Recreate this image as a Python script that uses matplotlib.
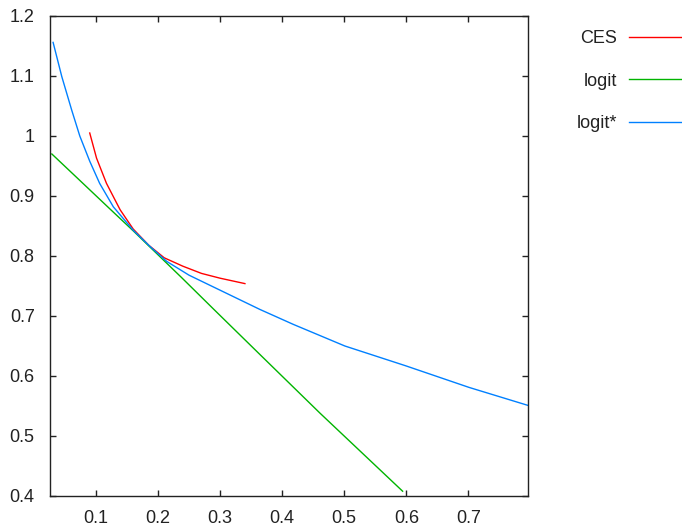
import numpy as np
import matplotlib
matplotlib.use("Agg")
import matplotlib.pyplot as plt

plt.rcParams['font.family'] = ['Liberation Sans', 'DejaVu Sans']

# CES curve
ces_x = [0.090, 0.101, 0.117, 0.139, 0.160, 0.185, 0.210, 0.240, 0.270, 0.300, 0.340]
ces_y = [1.005, 0.963, 0.921, 0.877, 0.845, 0.818, 0.797, 0.783, 0.771, 0.763, 0.754]

# logit curve
logit_x = [0.029, 0.074, 0.123, 0.160, 0.198, 0.238, 0.289, 0.364, 0.461, 0.594]
logit_y = [0.970, 0.926, 0.878, 0.842, 0.804, 0.764, 0.712, 0.636, 0.538, 0.408]

# logit* curve
logits_x = [0.031, 0.045, 0.061, 0.074, 0.090, 0.106, 0.128, 0.160, 0.187, 0.214,
            0.250, 0.294, 0.330, 0.364, 0.418, 0.501, 0.599, 0.701, 0.796]
logits_y = [1.156, 1.099, 1.043, 1.000, 0.958, 0.921, 0.882, 0.843, 0.816, 0.791,
            0.768, 0.746, 0.728, 0.711, 0.686, 0.650, 0.617, 0.581, 0.551]

x_ticks = [0.1, 0.2, 0.3, 0.4, 0.5, 0.6, 0.7]
y_ticks = [0.4, 0.5, 0.6, 0.7, 0.8, 0.9, 1.0, 1.1, 1.2]
y_labels = ['0.4', '0.5', '0.6', '0.7', '0.8', '0.9', '1', '1.1', '1.2']

fig = plt.figure(figsize=(6.82, 5.26), dpi=100)
ax = fig.add_axes([50 / 682, 30 / 526, 478 / 682, 480 / 526])

ax.plot(ces_x, ces_y, color='#ff0000', lw=1.0, label='CES')
ax.plot(logit_x, logit_y, color='#00b400', lw=1.0, label='logit')
ax.plot(logits_x, logits_y, color='#0080ff', lw=1.0, label='logit*')

ax.set_xlim(0.026, 0.796)
ax.set_ylim(0.4, 1.2)
ax.set_xticks(x_ticks)
ax.set_xticklabels([str(t) for t in x_ticks])
ax.set_yticks(y_ticks)
ax.set_yticklabels(y_labels)

ax.tick_params(axis='both', direction='in', top=True, right=True,
               length=4.3, width=1.0, labelsize=13, colors='#222222')
ax.tick_params(axis='x', pad=10)
ax.tick_params(axis='y', pad=11)
ax.minorticks_off()
for sp in ax.spines.values():
    sp.set_linewidth(1.0)
    sp.set_color('#222222')

fig.legend(loc='upper right', bbox_to_anchor=(681 / 682, 1 - 30 / 526),
           frameon=False, markerfirst=False, fontsize=13,
           handlelength=2.9, handletextpad=0.65, labelspacing=1.42,
           borderpad=0, borderaxespad=0, labelcolor='#222222')

fig.savefig('out.png', dpi=100)
